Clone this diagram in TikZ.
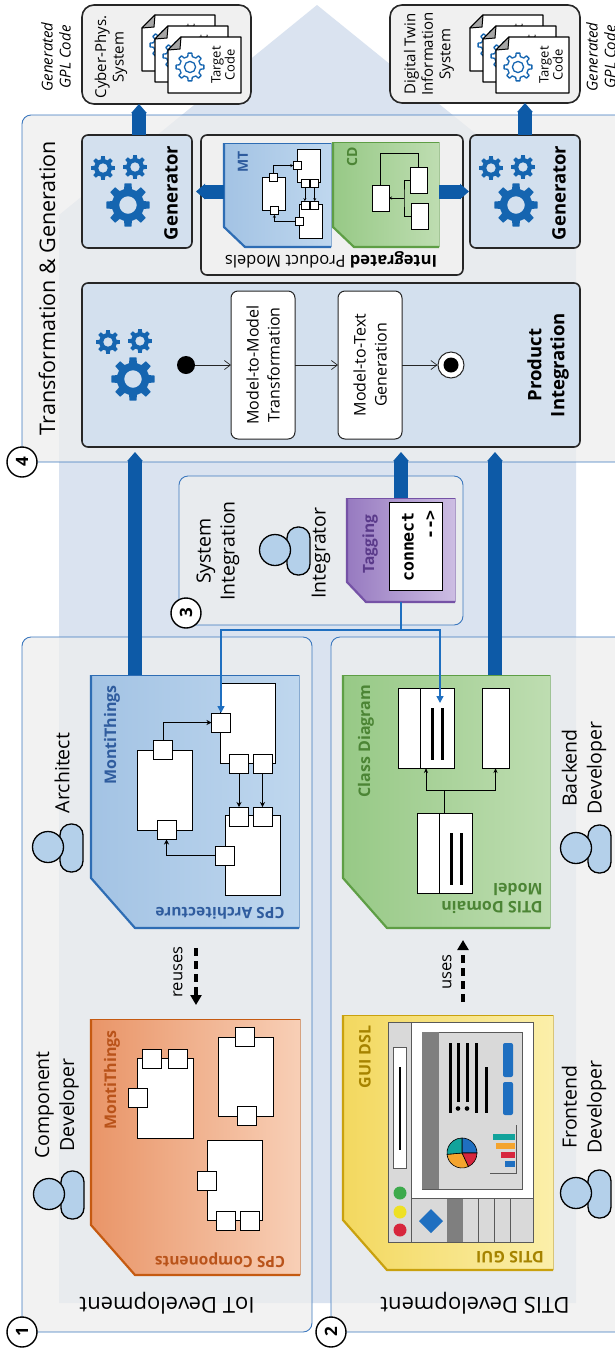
\documentclass[tikz,border=0pt]{standalone}
\usepackage{fontspec}
\setmainfont{Open Sans}
\setmonofont{DejaVu Sans Mono}
\usetikzlibrary{arrows.meta,calc}

\definecolor{bgblue}{HTML}{DAE3F0}
\definecolor{panel}{HTML}{EEEEEE}
\definecolor{frameblue}{HTML}{3C78BE}
\definecolor{ink}{HTML}{262626}
\definecolor{boxblue}{HTML}{D3E0EE}
\definecolor{boxgray}{HTML}{F0F0F0}
\definecolor{flowblue}{HTML}{0D5AA7}
\definecolor{gearblue}{HTML}{1565B0}
\definecolor{linkblue}{HTML}{1F6FC0}
\definecolor{personfill}{HTML}{B4D0EA}
\definecolor{blL}{HTML}{A3C3E4}\definecolor{blR}{HTML}{BFD7EE}\definecolor{blD}{HTML}{2E6DB4}\definecolor{blT}{HTML}{2F5C9E}
\definecolor{orL}{HTML}{E99568}\definecolor{orR}{HTML}{F8CFB6}\definecolor{orD}{HTML}{C55A11}\definecolor{orT}{HTML}{B9531A}
\definecolor{grL}{HTML}{97C986}\definecolor{grR}{HTML}{BEDDB1}\definecolor{grD}{HTML}{5E9E45}\definecolor{grT}{HTML}{4C8535}
\definecolor{yeL}{HTML}{F3D85F}\definecolor{yeR}{HTML}{FBEFAA}\definecolor{yeD}{HTML}{C9A10E}\definecolor{yeT}{HTML}{A68300}
\definecolor{puL}{HTML}{977AC0}\definecolor{puR}{HTML}{CDBDE3}\definecolor{puD}{HTML}{7552A6}\definecolor{puT}{HTML}{5A3A8A}
\definecolor{guigray}{HTML}{D9D9D9}\definecolor{guidark}{HTML}{7F7F7F}\definecolor{guiline}{HTML}{595959}
\definecolor{guiblue}{HTML}{1F6FC0}\definecolor{guiteal}{HTML}{12A39B}\definecolor{guiorange}{HTML}{F4A42E}
\definecolor{guired}{HTML}{D7263D}\definecolor{guigreen}{HTML}{3DAA4C}\definecolor{guiyellow}{HTML}{EEE024}

\newcommand\fsz[2]{\fontsize{#1}{#2}\selectfont}

\tikzset{
  secframe/.style={draw=frameblue, line width=0.9pt, rounded corners=9pt, fill=panel, fill opacity=0.75},
  darkbox/.style={draw=ink, line width=1.6pt, rounded corners=6pt},
  whitebox/.style={draw=ink, line width=1pt, rounded corners=7pt, fill=white},
  numcirc/.style={circle, draw=black, line width=1.4pt, fill=white, minimum size=30pt, inner sep=0pt, font=\bfseries\fsz{17}{17}, rotate=90},
  lbl/.style={rotate=90, align=center, inner sep=0pt},
  upside/.style={rotate=180, align=center, inner sep=0pt},
  bigarrow/.style={draw=flowblue, line width=14pt, -{Triangle[length=9pt,width=15pt]}},
  linkarrow/.style={draw=linkblue, line width=1.4pt, -{Triangle[length=7pt,width=7pt]}},
  flowarrow/.style={draw=ink, line width=0.7pt, -{Straight Barb[length=6pt,width=9pt]}},
  dasharrow/.style={draw=black, line width=3.5pt, dash pattern=on 8pt off 5pt, -{Triangle[length=10pt,width=11pt]}},
  comp/.style={draw=black, fill=white, inner sep=0pt, outer sep=0pt},
  port/.style={draw=black, fill=white, inner sep=0pt, outer sep=0pt, minimum size=19pt},
  personbody/.style={draw=black, line width=1.3pt, fill=personfill},
}

% rectangle node given by its top-left and bottom-right corners
\newcommand\boxat[6]{\node[#1, anchor=north west, inner sep=0pt, outer sep=0pt, minimum width={(#5)-(#3)}, minimum height={(#6)-(#4)}] (#2) at (#3,#4) {};}

% model card with a cut lower-left corner: name, x1, y1, x2, y2, cut width, cut height, colour prefix
\newcommand\modelcard[8]{%
  \boxat{}{#1}{#2}{#3}{#4}{#5}%
  \shade[left color=#8L, right color=#8R] (#1.north west) -- (#1.north east) -- (#1.south east) -- ([xshift=#6pt]#1.south west) -- ([yshift=#7pt]#1.south west) -- cycle;
  \draw[#8D, line width=0.6pt, opacity=0.5] (#1.north east) -- (#1.south east);
  \draw[#8D, line width=1pt] (#1.north west) -- (#1.north east);
  \draw[#8D, line width=2.2pt, line join=round] (#1.north west) -- ([yshift=#7pt]#1.south west) -- ([xshift=#6pt]#1.south west) -- (#1.south east);
}

% solid gear with a hole: centre x, centre y, outer radius
\newcommand\gearfull[3]{%
  \fill[gearblue, even odd rule, shift={(#1,#2)}] (-14:{0.74*#3})
    \foreach \k in {0,...,7}{ -- ({\k*45-14}:{0.74*#3}) -- ({\k*45-9}:{#3}) -- ({\k*45+9}:{#3}) -- ({\k*45+14}:{0.74*#3}) } -- cycle
    (0,0) circle ({0.4*#3});
}
% outlined gear
\newcommand\gearring[3]{%
  \draw[gearblue, line width=1.3pt, fill=white, line join=round, shift={(#1,#2)}] (-12:{0.76*#3})
    \foreach \k in {0,...,7}{ -- ({\k*45-12}:{0.76*#3}) -- ({\k*45-8}:{#3}) -- ({\k*45+8}:{#3}) -- ({\k*45+12}:{0.76*#3}) } -- cycle;
  \draw[gearblue, line width=1.3pt, shift={(#1,#2)}] (0,0) circle ({0.4*#3});
}
% three gears, given the centre of the large one
\newcommand\geartrio[2]{%
  \gearfull{#1}{#2}{22}
  \gearfull{#1-25}{#2-37}{12}
  \gearfull{#1+7}{#2-38}{12}
}
% user figure: name, head centre x, head centre y
\newcommand\userfig[3]{%
  \draw[personbody, rounded corners=11pt] (#2+12,#3-23) rectangle (#2+35,#3+25);
  \node[circle, personbody, minimum size=31pt, inner sep=0pt] (#1) at (#2,#3) {};
}
% generated code sheet: name, top-left x, top-left y
\newcommand\docsheet[3]{%
  \draw[fill=white, line width=1.3pt, line join=round] (#2+13,#3) -- (#2+73,#3) -- (#2+73,#3+56) -- (#2,#3+56) -- (#2,#3+13) -- cycle;
  \filldraw[fill=black!35, line width=1pt, line join=round] (#2+13,#3) -- (#2,#3+13) -- (#2+12,#3+12) -- cycle;
  \gearring{#2+22}{#3+30}{14}
  \node[lbl, font=\fsz{13}{14}] (#1) at (#2+55,#3+28) {Target\\Code};
}
% component diagram with ports: prefix, arrow tip, line width
\newcommand\cmpdiagram[3]{%
  \node[comp, line width=#3, minimum width=55pt, minimum height=80pt] (#1A) at (27.5,107) {};
  \node[comp, line width=#3, minimum width=55pt, minimum height=80pt] (#1B) at (110.5,40) {};
  \node[comp, line width=#3, minimum width=55pt, minimum height=80pt] (#1C) at (115.5,172) {};
  \node[port, line width=#3] (#1pa) at (26,67) {};
  \node[port, line width=#3] (#1pab) at (29.5,147) {};
  \node[port, line width=#3] (#1pbl) at (84,39.5) {};
  \node[port, line width=#3] (#1pb1) at (102,81) {};
  \node[port, line width=#3] (#1pb2) at (125.5,81) {};
  \node[port, line width=#3] (#1pc1) at (102,133.5) {};
  \node[port, line width=#3] (#1pc2) at (125.5,133.5) {};
  \node[port, line width=#3] (#1pcl) at (88,172.5) {};
  \draw[line width=#3, #2] (#1pa.north) |- (#1pbl.west);
  \draw[line width=#3, #2] (#1pb1.south) -- (#1pc1.north);
  \draw[line width=#3, #2] (#1pb2.south) -- (#1pc2.north);
  \draw[line width=#3, #2] (#1pcl.west) -| (#1pab.south);
}

\begin{document}
\begin{tikzpicture}[x=1pt,y=-1pt]
\useasboundingbox (0,0) rectangle (615,1350);
\clip (0,0) rectangle (615,1350);
\fill[white] (0,0) rectangle (615,1350);

% large backdrop arrow
\fill[bgblue] (59,1303) -- (59,215) -- (317,5) -- (576,215) -- (576,1303) -- cycle;

% section frames
\boxat{secframe}{tg}{22}{115}{650}{462}
\boxat{secframe}{si}{179}{476}{463}{625}
\boxat{secframe}{iot}{22}{637}{312}{1332}
\boxat{secframe}{dtis}{331}{637}{650}{1332}

% ---------- 4: Transformation & Generation
\node[lbl, font=\fsz{21.5}{25}] (tgtitle) at (47,288) {Transformation \& Generation};

\boxat{darkbox, fill=boxblue}{genL}{82}{135}{192}{248}
\boxat{darkbox, fill=boxgray}{ipm}{201}{135}{463}{275}
\boxat{darkbox, fill=boxblue}{genR}{470}{135}{580}{248}
\boxat{darkbox, fill=boxblue}{pi}{82}{283}{580}{447}
\boxat{darkbox, fill=boxgray, rounded corners=12pt}{outL}{82}{5}{251}{104}
\boxat{darkbox, fill=boxgray, rounded corners=12pt}{outR}{390}{5}{580}{103}

\geartrio{128}{205}
\geartrio{516}{205}
\geartrio{133}{379}

\node[lbl, font=\bfseries\fsz{18.5}{22}] (genLt) at (171,193) {Generator};
\node[lbl, font=\bfseries\fsz{18.5}{22}] (genRt) at (559,193) {Generator};
\node[lbl, font=\bfseries\fsz{18.5}{23}] (pit) at (548,365) {Product\\Integration};

% activity inside the product integration
\boxat{whitebox}{m2m}{231}{291}{295}{439}
\boxat{whitebox}{m2t}{338}{291}{402}{439}
\node[lbl, font=\fsz{16}{21}] (m2mt) at (m2m) {Model-to-Model\\Transformation};
\node[lbl, font=\fsz{16}{21}] (m2tt) at (m2t) {Model-to-Text\\Generation};
\node[circle, fill=black, minimum size=18pt, inner sep=0pt] (init) at (186,365) {};
\node[circle, draw=ink, line width=1pt, fill=white, minimum size=26pt, inner sep=0pt] (final) at (451,365) {};
\node[circle, fill=black, minimum size=15pt, inner sep=0pt] (finaldot) at (final) {};
\draw[flowarrow] (init) -- (m2m);
\draw[flowarrow] (m2m) -- (m2t);
\draw[flowarrow] (m2t) -- (final);

% integrated product models
\modelcard{mt}{224}{143}{331}{247}{21}{20}{bl}
\modelcard{cd}{333}{142}{439}{247}{21}{20}{gr}
\node[lbl, font=\bfseries\fsz{14}{15}, text=blT] (mtt) at (243,162) {MT};
\node[lbl, font=\bfseries\fsz{14}{15}, text=grT] (cdt) at (352,157) {CD};
\begin{scope}[shift={(262,149)}, scale=0.42, transform shape]
  \cmpdiagram{m}{-{Stealth[length=3pt,width=3pt]}}{0.6pt}
\end{scope}
\boxat{comp, line width=0.7pt}{cda}{372}{185}{389}{211}
\boxat{comp, line width=0.7pt}{cdb}{410}{167}{427}{193}
\boxat{comp, line width=0.7pt}{cdc}{411}{203}{428}{229}
\coordinate (cdj) at (404,198);
\draw[line width=0.6pt] (cda.north) -- ++(0,-32) -| (cdb.north);
\draw[line width=0.6pt] (cdb.west) -| (cdj) |- (cdc.west);
\draw[line width=0.6pt, -{Stealth[length=3pt,width=3pt]}] (cdj) -- (cda.east |- cdj);
\node[upside, font=\fsz{16.5}{19}] (ipmt) at (331,260) {\textbf{Integrated} Product Models};

\draw[bigarrow, shorten >=4pt] (mt.west |- genL.east) -- (genL.east);
\draw[bigarrow, shorten >=1pt] (cd.east |- genR.west) -- (genR.west);
\draw[bigarrow] ($(genL.north)+(2,0)$) -- ($(genL.north |- outL.south)+(2,0)$);
\draw[bigarrow] (genR.north) -- (genR.north |- outR.south);

% generated systems
\node[lbl, font=\fsz{15}{17.5}] (outLt) at (111,57) {Cyber-Phys.\\System};
\node[lbl, font=\fsz{15}{17.5}] (outRt) at (429,54) {Digital Twin\\Information\\System};
\docsheet{dl1}{142}{15}
\docsheet{dl2}{155}{26}
\docsheet{dl3}{168}{37}
\docsheet{dr1}{470}{15}
\docsheet{dr2}{483}{26}
\docsheet{dr3}{496}{37}
\node[lbl, font=\itshape\fsz{15}{18}] (gplL) at (56,57) {Generated\\GPL Code};
\node[lbl, font=\itshape\fsz{15}{18}] (gplR) at (601,57) {Generated\\GPL Code};

% ---------- 3: System Integration
\node[lbl, font=\fsz{19.5}{24}] (sit) at (218,551) {System\\Integration};
\userfig{integrator}{275}{550}
\node[lbl, font=\fsz{19.5}{24}] (intt) at (321,553) {Integrator};
\modelcard{tag}{347}{498}{455}{602}{19}{20}{pu}
\boxat{comp, line width=1pt}{tagtxt}{389}{502}{442}{590}
\node[lbl, font=\bfseries\fsz{15.5}{18}, text=puT] (tagt) at (370,544) {Tagging};
\node[lbl, font=\ttfamily\bfseries\fsz{16.5}{19}] (conn) at (408,547) {connect};
\node[lbl, font=\ttfamily\bfseries\fsz{16.5}{19}] (connarr) at (431,525) {-{}-{}>};

% ---------- 1: IoT Development
\userfig{architect}{48}{847}
\node[lbl, font=\fsz{19.5}{24}] (archt) at (62,773) {Architect};
\modelcard{cpsarch}{91}{675}{299}{928}{44}{50}{bl}
\node[lbl, font=\bfseries\fsz{16}{18}, text=blT] (mt1) at (112,735) {MontiThings};
\node[upside, font=\bfseries\fsz{15.5}{18}, text=blT] (cpsarcht) at (220,913) {CPS Architecture};
\begin{scope}[shift={(137,683)}]
  \cmpdiagram{a}{-{Stealth[length=5pt,width=5pt]}}{0.9pt}
\end{scope}

\modelcard{cpscomp}{91}{1019}{300}{1275}{44}{50}{or}
\node[lbl, font=\bfseries\fsz{16}{18}, text=orT] (mt2) at (112,1080) {MontiThings};
\node[upside, font=\bfseries\fsz{15.5}{18}, text=orT] (cpscompt) at (220,1260) {CPS Components};
\boxat{comp, line width=0.9pt}{cD}{137}{1058}{193}{1138}
\boxat{comp, line width=0.9pt}{cE}{218}{1037}{273}{1116}
\boxat{comp, line width=0.9pt}{cF}{207}{1140}{262}{1220}
\node[port, line width=0.9pt] (cDp1) at (152,1059) {};
\node[port, line width=0.9pt] (cDp2) at (177.5,1059) {};
\node[port, line width=0.9pt] (cDp3) at (138,1097.5) {};
\node[port, line width=0.9pt] (cEp1) at (244.5,1036.5) {};
\node[port, line width=0.9pt] (cEp2) at (247,1116) {};
\node[port, line width=0.9pt] (cFp1) at (206.5,1180.5) {};
\node[port, line width=0.9pt] (cFp2) at (225.5,1221) {};
\node[port, line width=0.9pt] (cFp3) at (249.5,1221) {};

\draw[dasharrow] ($(cpsarch.south west)+(105,20)$) -- ($(cpscomp.north west)+(105,-14)$);
\node[lbl, font=\fsz{16.5}{19}] (reuses) at (178,972) {reuses};

\userfig{compdev}{49}{1194}
\node[lbl, font=\fsz{19.5}{25}] (compdevt) at (57,1105) {Component\\Developer};
\node[upside, font=\fsz{22}{25}] (iott) at (167,1303) {IoT Development};

% ---------- 2: DTIS Development
\userfig{backend}{576}{848}
\node[lbl, font=\fsz{19.5}{25}] (backt) at (584,768) {Backend\\Developer};
\modelcard{classd}{343}{675}{550}{928}{44}{50}{gr}
\node[lbl, font=\bfseries\fsz{16}{18}, text=grT] (cdl) at (366,741) {Class Diagram};
\node[upside, font=\bfseries\fsz{16}{18}, text=grT, align=left] (domt) at (492,898) {DTIS Domain\\Model};
\boxat{comp, line width=0.9pt}{cls1}{398}{688}{454}{768}
\draw[line width=0.9pt] (420,688) -- (420,768);
\draw[line width=3pt] (432,708) -- (432,760) (442,708) -- (442,760);
\boxat{comp, line width=0.9pt}{cls2}{482}{688}{509}{768}
\boxat{comp, line width=0.9pt}{cls3}{417}{813}{472}{893}
\draw[line width=0.9pt] (439,813) -- (439,893);
\draw[line width=3pt] (451,833) -- (451,885) (461,833) -- (461,885);
\coordinate (inh) at ($(cls3.north)+(0,-23)$);
\draw[line width=0.9pt] (cls3.north) -- (inh);
\draw[line width=0.9pt, -{Stealth[length=5pt,width=4pt]}] (inh) -| (cls1.south);
\draw[line width=0.9pt, -{Stealth[length=5pt,width=4pt]}] (inh) -| (cls2.south);

\modelcard{guid}{343}{1015}{553}{1270}{44}{50}{ye}
\node[lbl, font=\bfseries\fsz{16}{18}, text=yeT] (guidsl) at (365,1057) {GUI DSL};
\node[upside, font=\bfseries\fsz{16}{18}, text=yeT] (dtisgui) at (510,1257) {DTIS GUI};
% GUI mock-up
\draw[fill=guigray, draw=guiline, line width=0.8pt] (388,1022) rectangle (533,1242);
\draw[fill=white, draw=guiline, line width=0.6pt] (411,1022) rectangle (533,1198);
\draw[fill=guigray, draw=guiline, line width=0.8pt] (422,1032) rectangle (522,1189);
\fill[guidark] (422.4,1032.4) rectangle (439,1188.6);
\draw[line width=3pt] (450,1043) -- (450,1113) (476,1043) -- (476,1113) (486,1067) -- (486,1113) (458,1043) -- (458,1102) (467,1043) -- (467,1102);
\fill (458,1108.5) circle (2.3) (467,1108.5) circle (2.3);
\fill[guiblue, rounded corners=2pt] (503,1043) rectangle (513,1077) (503,1082) rectangle (513,1115);
\foreach \a/\b/\c in {270/360/guiblue, 0/65/guired, 65/175/guiorange, 175/270/guiteal}{
  \filldraw[fill=\c, draw=black, line width=0.6pt] (462,1153) -- ++(\a:15) arc[start angle=\a, end angle=\b, radius=15] -- cycle;
}
\draw[line width=0.6pt, guiline] (490,1173) -- (516,1173) -- (516,1125);
\fill[guiteal] (493,1134) rectangle (515,1140);
\fill[guiorange] (496,1143) rectangle (515,1149);
\fill[guired] (501,1152) rectangle (515,1158);
\fill[guiblue] (505,1161) rectangle (515,1167);
\draw[fill=white, draw=guiline, line width=0.6pt] (393,1047) rectangle (406,1168);
\draw[line width=2pt] (399.5,1067) -- (399.5,1150);
\fill[guigreen] (400,1193) circle (6.5);
\fill[guiyellow] (400,1212) circle (6.5);
\fill[guired] (400,1230) circle (6.5);
\draw[guiline, line width=0.6pt] (411,1198) -- (533,1198) (411,1198) -- (411,1242) (478,1198) -- (478,1242) (494,1198) -- (494,1242) (510,1198) -- (510,1242);
\fill[guidark] (447,1198.5) rectangle (463,1241.5);
\fill[guiblue] (431,1209) -- (443,1221) -- (431,1233) -- (419,1221) -- cycle;

\draw[dasharrow] ($(guid.north west)+(120,-13)$) -- ($(classd.south west)+(120,12)$);
\node[lbl, font=\fsz{16.5}{19}] (usest) at (447,972) {uses};

\userfig{frontend}{576}{1193}
\node[lbl, font=\fsz{19.5}{25}] (frontt) at (584,1107) {Frontend\\Developer};
\node[upside, font=\fsz{22}{25}] (dtist) at (475,1303) {DTIS Development};

% ---------- flows between the sections
\draw[bigarrow] ($(cpsarch.north west)+(44,0)$) -- ($(cpsarch.north west |- pi.south)+(44,5)$);
\draw[bigarrow] (tag.north) -- ($(tag.north |- pi.south)+(0,5)$);
\draw[bigarrow] ($(classd.north west)+(152,0)$) -- ($(classd.north west |- pi.south)+(152,5)$);

\coordinate (split) at ($(tag.south)+(0,28)$);
\draw[draw=linkblue, line width=1.4pt] (tag.south) -- (split);
\draw[linkarrow] (split) -| (apbl.north);
\draw[linkarrow] (split) -| ($(cls1.north)+(14,15)$);

% section numbers
\node[numcirc] (c4) at (tg.south west) {4};
\node[numcirc] (c3) at (186,613) {3};
\node[numcirc] (c1) at (iot.south west) {1};
\node[numcirc] (c2) at (dtis.south west) {2};
\end{tikzpicture}
\end{document}
